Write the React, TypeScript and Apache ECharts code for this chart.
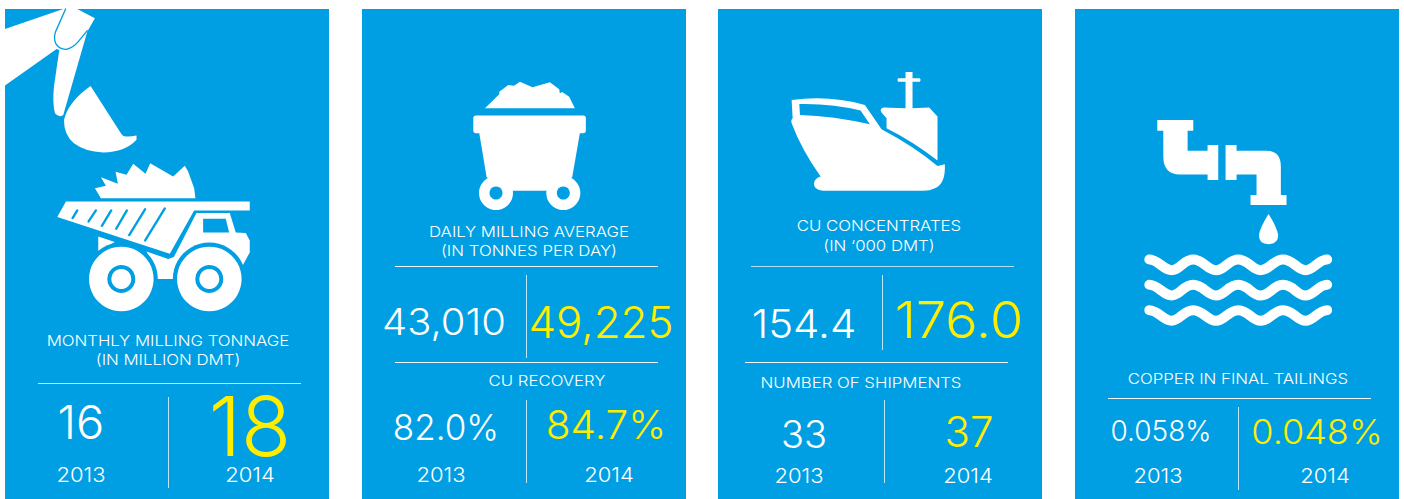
import React, { useEffect, useRef } from "react";
import * as echarts from "echarts";

const years = ["2013", "2014"];
const milling = ["16", "18"];
const dailyAverage = ["43,010", "49,225"];
const recovery = ["82.0%", "84.7%"];
const concentrates = ["154.4", "176.0"];
const shipments = ["33", "37"];
const tailings = ["0.058%", "0.048%"];
const captions = [
  "MONTHLY MILLING TONNAGE",
  "(IN MILLION DMT)",
  "DAILY MILLING AVERAGE",
  "(IN TONNES PER DAY)",
  "CU RECOVERY",
  "CU CONCENTRATES",
  "(IN ‘000 DMT)",
  "NUMBER OF SHIPMENTS",
  "COPPER IN FINAL TAILINGS",
];

const BLUE = "#009fe3";
const YELLOW = "#ffed00";
const WHITE = "#ffffff";
const FONT = "Inter, Lato, sans-serif";

let shapeId = 0;
function icon(d: string, ox: number, oy: number, fill: any, stroke?: string, lineWidth?: number) {
  const name = "icon" + shapeId++;
  echarts.graphic.registerShape(name, echarts.graphic.extendPath(d, {}) as any);
  return {
    type: name, x: ox, y: oy, scaleX: 1 / 3, scaleY: 1 / 3, silent: true,
    style: { fill: fill, stroke: stroke ?? "none", lineWidth: lineWidth ?? 0, lineCap: "round", lineJoin: "round" },
  };
}
const circle = (cx: number, cy: number, r: number, fill: string) => ({ type: "circle", silent: true, shape: { cx, cy, r }, style: { fill } });
const text = (t: string, x: number, y: number, size: number, fill = WHITE, stretch = 1) => ({
  type: "text", x, y, scaleX: stretch, silent: true,
  style: { text: t, fill, font: `300 ${size}px ${FONT}`, lineHeight: Math.round(size * 0.8), textAlign: "center", textVerticalAlign: "middle" },
});
const caption = (t: string, x: number, y: number) => text(t, x, y, 15, WHITE, 1.12);
const year = (t: string, x: number, y: number) => text(t, x, y, 20, WHITE, 1.1);
const rule = (x1: number, x2: number, y: number, opacity = 0.95) => ({
  type: "line", silent: true, shape: { x1, y1: y + 0.5, x2, y2: y + 0.5 }, style: { stroke: WHITE, lineWidth: 1, opacity },
});
const divider = (x: number, y1: number, y2: number) => ({
  type: "line", silent: true, shape: { x1: x + 0.5, y1, x2: x + 0.5, y2 }, style: { stroke: WHITE, lineWidth: 1, opacity: 0.75 },
});
const panel = (x: number) => ({ type: "rect", silent: true, shape: { x, y: 9, width: 324, height: 490 }, style: { fill: BLUE } });

function truck() {
  return [
    icon("M15,87 L190,27 L232,27 L285,55 L262,95 L190,345 Q178,355 165,340 Q157,310 162,260 L178,150 L170,147 L15,257 Z", 0, 0, WHITE),
    icon("M197,27 L167,95 Q160,115 168,132 Q180,150 200,148 Q220,143 235,125 L262,92", 0, 0, "none", BLUE, 4),
    icon("M272,258 L365,403 Q372,415 410,407 L410,420 Q375,458 310,458 Q255,455 222,430 Q192,405 192,360 Q205,305 272,258 Z", 0, 0, WHITE),
    icon("M285,565 L318,558 L303,532 L354,552 L347,516 L380,525 L400,492 L437,522 L451,490 L520,530 L555,498 L565,515 L583,565 L587,595 L303,595 Z", 0, 0, WHITE),
    icon("M198,605 L750,605 L750,632 L583,632 L510,762 L172,652 Z", 0, 0, WHITE),
    icon("M232,632 L218,655 M288,632 L266,665 M334,632 L306,678 M381,632 L349,687 M436,628 L388,706 M495,626 L436,722", 0, 0, "none", BLUE, 7),
    icon("M590,640 L690,640 L708,698 L738,700 L750,722 L750,758 L730,795 L690,850 L520,838 L470,838 L440,755 L505,778 L522,772 Z", 0, 0, WHITE),
    icon("M295,710 L345,727 L295,755 Z", 0, 0, WHITE),
    icon("M610,657 L678,657 L688,698 L610,698 Z", 0, 0, BLUE),
    circle(121.3, 279, 36.5, BLUE),
    circle(209.3, 279, 36.5, BLUE),
    icon("M530,848 A98,110 0 0 1 726,848 L800,848 L800,930 L530,930 Z", 0, 0, BLUE),
    circle(121.3, 279, 32.3, WHITE),
    circle(209.3, 279, 32.3, WHITE),
    circle(121.3, 279, 14, BLUE),
    circle(209.3, 279, 14, BLUE),
    circle(121.3, 279, 10, WHITE),
    circle(209.3, 279, 10, WHITE),
  ];
}

function cart() {
  const o = [440, 60];
  return [
    icon("M135,145 L178,103 L178,95 L205,75 L222,77 L240,65 L278,82 L330,67 L358,88 L360,100 L367,96 L388,110 L405,145 Z", o[0], o[1], WHITE),
    icon("M108,167 L430,167 Q438,167 438,175 L438,212 Q438,220 430,220 L420,220 L397,352 L318,393 L220,393 L140,352 L118,220 L108,220 Q100,220 100,212 L100,175 Q100,167 108,167 Z", o[0], o[1], WHITE),
    circle(496, 193, 17, WHITE),
    circle(563.3, 193, 17, WHITE),
    circle(496, 193, 6.5, BLUE),
    circle(563.3, 193, 6.5, BLUE),
  ];
}

function ship() {
  const o = [770, 60];
  return [
    icon("M407,145 L407,65 L385,65 Q380,60 385,55 L407,55 L407,36 L428,36 L428,55 L450,55 Q455,60 450,65 L428,65 L428,145 L478,143 L503,170 L503,302 Q430,245 350,205 L350,175 L335,158 Q328,148 340,143 Z", o[0], o[1], WHITE),
    icon("M65,120 Q180,105 285,135 L335,208 Q430,258 503,318 L525,313 Q528,372 495,385 Q480,393 460,393 L160,393 Q130,390 132,370 Q135,355 152,350 Q95,270 65,190 Q62,180 68,175 Z", o[0], o[1], WHITE),
    icon("M88,132 Q190,130 272,152 L300,193 Q190,168 90,165 Z", o[0], o[1], BLUE),
  ];
}

function waves() {
  const o = [1130, 110];
  const row = (y: number) =>
    `M58,${y} C85,${y} 100,${y + 32} 125,${y + 32} C150,${y + 32} 160,${y} 190,${y} C220,${y} 232,${y + 32} 258,${y + 32} C285,${y + 32} 295,${y} 325,${y} C355,${y} 367,${y + 32} 392,${y + 32} C420,${y + 32} 430,${y} 460,${y} C490,${y} 502,${y + 32} 527,${y + 32} C552,${y + 32} 565,${y} 592,${y}`;
  return [
    icon("M82,30 L190,30 L190,62 L173,62 L173,122 L233,122 L233,105 L265,105 L265,210 L233,210 L233,194 L150,194 Q100,194 100,140 L100,62 L82,62 Z", o[0], o[1], WHITE),
    icon("M287,105 L320,105 L320,122 L410,122 Q453,122 453,170 L453,255 L470,255 L470,285 L362,285 L362,255 L380,255 L380,194 L320,194 L320,210 L287,210 Z", o[0], o[1], WHITE),
    icon("M416,312 Q440,350 445,375 Q445,402 416,403 Q387,402 387,375 Q392,350 416,312 Z", o[0], o[1], WHITE),
    icon(row(449), o[0], o[1], "none", WHITE, 30),
    icon(row(525), o[0], o[1], "none", WHITE, 30),
    icon(row(601), o[0], o[1], "none", WHITE, 30),
  ];
}

export default function App() {
  const ref = useRef<HTMLDivElement>(null);
  useEffect(() => {
    const chart = echarts.init(ref.current!, null, { renderer: "svg" });
    shapeId = 0;
    const elements: any[] = [
      panel(5), panel(362), panel(718), panel(1075),
      ...truck(), ...cart(), ...ship(), ...waves(),

      caption(captions[0], 168, 341), caption(captions[1], 168, 360),
      rule(38, 301, 383, 0.8), divider(168, 397, 488),
      text(milling[0], 81, 421, 47), text(milling[1], 250, 426, 82, YELLOW),
      year(years[0], 81, 475), year(years[1], 250, 475),

      caption(captions[2], 529, 232), caption(captions[3], 529, 251),
      rule(395, 658, 266), divider(526, 275, 358),
      text(dailyAverage[0], 444, 322, 37, WHITE, 1.08), text(dailyAverage[1], 601, 322, 43, YELLOW, 1.02),
      rule(395, 658, 362),
      caption(captions[4], 547, 381),
      divider(526, 400, 483),
      text(recovery[0], 446, 427, 35), text(recovery[1], 606, 425, 39, YELLOW, 1.04),
      year(years[0], 441, 475), year(years[1], 609, 475),

      caption(captions[5], 879, 226), caption(captions[6], 879, 246),
      rule(751, 1014, 266, 0.7), divider(882, 275, 350),
      text(concentrates[0], 804, 323, 40, WHITE, 1.05), text(concentrates[1], 959, 320, 51, YELLOW, 1.06),
      rule(745, 1008, 362),
      caption(captions[7], 861, 383),
      divider(884, 400, 483),
      text(shipments[0], 804, 434, 38), text(shipments[1], 969, 431, 42, YELLOW),
      year(years[0], 799, 476), year(years[1], 968, 476),

      caption(captions[8], 1238, 379),
      rule(1108, 1371, 398), divider(1238, 407, 490),
      text(tailings[0], 1161, 431, 28), text(tailings[1], 1317, 431, 34, YELLOW, 1.06),
      year(years[0], 1158, 476), year(years[1], 1325, 476),
    ];
    chart.setOption({ animation: false, backgroundColor: "#ffffff", graphic: { elements } });
    return () => chart.dispose();
  }, []);
  return <div ref={ref} style={{ position: "fixed", left: 0, top: 0, width: 1404, height: 499 }} />;
}
